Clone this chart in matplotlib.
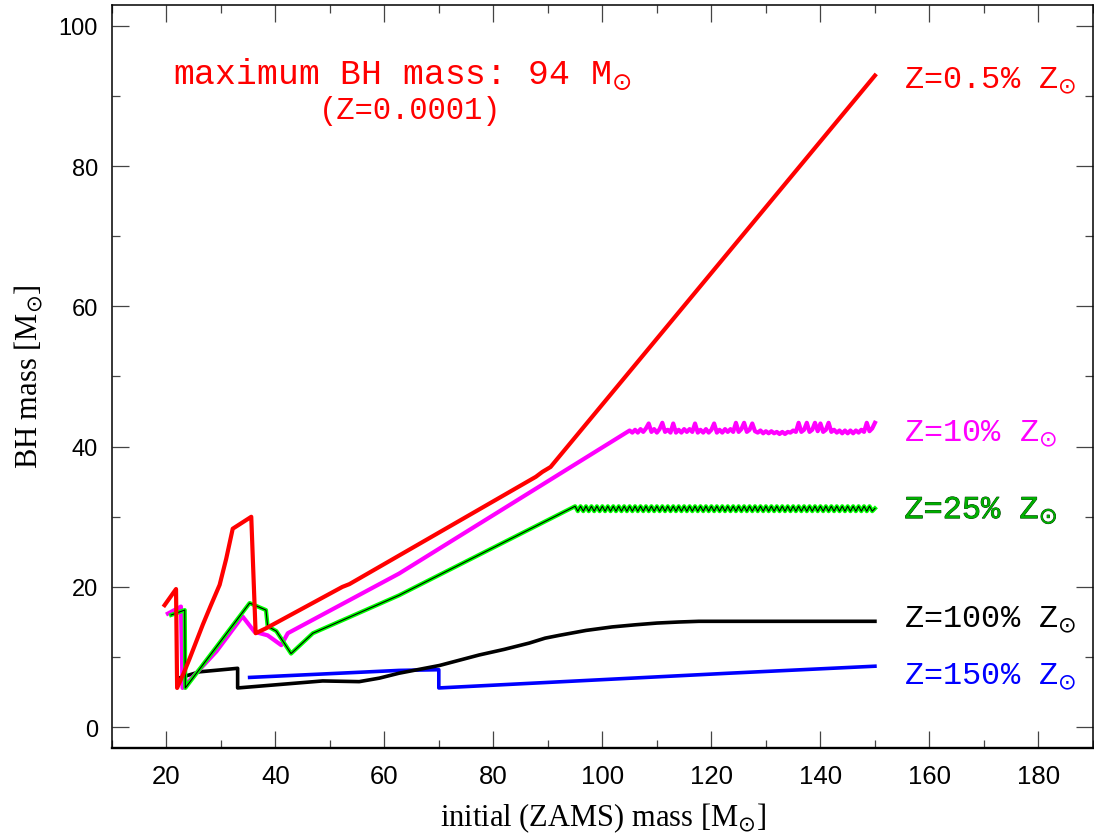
import numpy as np
import matplotlib
matplotlib.use("Agg")
import matplotlib.pyplot as plt
import matplotlib.patheffects as pe
from matplotlib.ticker import MultipleLocator

# BH mass vs ZAMS mass
red_x = [19.7, 21.8, 22.0, 23.2, 24.3, 25.5, 26.7, 28.2, 29.8, 31.0, 32.2, 35.6, 36.4, 38.3,
         52.3, 53.6, 87.8, 89.0, 90.5, 150.0]
red_y = [17.4, 19.7, 5.6, 7.7, 9.8, 12.2, 14.6, 17.4, 20.3, 24.0, 28.3, 30.0, 13.4, 14.1,
         20.0, 20.4, 35.7, 36.4, 37.1, 92.9]

mag_x = [20.3, 22.7, 23.0, 29.2, 34.0, 36.2, 38.6, 41.1, 42.3, 62.7]
mag_y = [16.2, 17.2, 5.6, 10.8, 15.8, 13.6, 13.1, 11.7, 13.4, 21.9]
# plateau, one value per 0.5 Msun from 105 to 150
mag_plateau = [42.3, 42.0, 42.4, 42.0, 42.5, 42.1, 42.6, 43.3, 42.1, 42.5,
               42.0, 42.5, 43.4, 42.1, 42.4, 42.0, 43.3, 42.0, 42.4, 42.0,
               42.5, 42.1, 42.5, 42.1, 43.3, 42.0, 42.4, 42.0, 42.5, 42.0,
               42.4, 43.3, 42.0, 42.4, 42.0, 42.5, 42.1, 42.5, 42.1, 43.4,
               42.1, 42.5, 43.4, 42.1, 42.4, 43.3, 42.2, 42.0, 42.3, 41.9,
               42.2, 41.9, 42.2, 41.9, 42.1, 41.8, 42.1, 41.8, 42.1, 42.0,
               42.3, 42.1, 43.4, 42.1, 42.4, 43.4, 42.1, 42.4, 43.4, 42.2,
               43.3, 42.1, 42.4, 43.4, 42.1, 42.4, 42.0, 42.3, 41.9, 42.3,
               41.9, 42.3, 41.9, 42.3, 42.0, 42.4, 42.1, 43.4, 42.2, 42.6,
               43.4]

grn_x = [20.9, 23.4, 23.5, 35.3, 38.3, 38.6, 40.2, 42.9, 46.9, 62.7]
grn_y = [16.0, 16.7, 5.6, 17.7, 16.7, 14.4, 13.7, 10.5, 13.4, 18.8]
# plateau, one value per 0.5 Msun from 95 to 150
grn_plateau = [31.5, 30.8, 31.5, 30.8, 31.5, 30.8, 31.5, 30.8, 31.5, 30.8,
               31.5, 30.8, 31.5, 30.8, 31.5, 30.8, 31.5, 30.8, 31.5, 30.8,
               31.5, 30.8, 31.5, 30.8, 31.5, 30.8, 31.5, 30.8, 31.5, 30.8,
               31.5, 30.8, 31.5, 30.8, 31.5, 30.8, 31.5, 30.8, 31.5, 30.8,
               31.5, 30.8, 31.5, 30.8, 31.5, 30.8, 31.5, 30.8, 31.5, 30.8,
               31.5, 30.8, 31.5, 30.8, 31.5, 30.8, 31.5, 30.8, 31.5, 30.8,
               31.5, 30.8, 31.5, 30.8, 31.5, 30.8, 31.5, 30.8, 31.5, 30.8,
               31.5, 30.8, 31.5, 30.8, 31.5, 30.8, 31.5, 30.8, 31.5, 30.8,
               31.5, 30.8, 31.5, 30.8, 31.5, 30.8, 31.5, 30.8, 31.5, 30.8,
               31.5, 30.8, 31.5, 30.8, 31.5, 30.8, 31.5, 30.8, 31.5, 30.8,
               31.5, 30.8, 31.5, 30.8, 31.5, 30.8, 31.5, 30.8, 31.5, 30.8,
               31.2]

blk_x = [22.3, 26.1, 33.1, 33.1, 48.7, 55.4, 59.1, 62.7, 70.1, 77.4, 82.0, 86.6, 89.5, 92.1,
         97.0, 101.8, 106.0, 110.0, 114.0, 117.7, 150.0]
blk_y = [7.0, 7.9, 8.4, 5.6, 6.6, 6.5, 7.0, 7.7, 8.8, 10.3, 11.1, 12.0, 12.7, 13.1,
         13.8, 14.3, 14.6, 14.85, 15.0, 15.1, 15.1]

blu_x = [35.3, 62.7, 70.0, 70.0, 123.2, 150.0]
blu_y = [7.1, 8.1, 8.2, 5.6, 7.7, 8.7]

labels = ["Z=0.5% Z$_{\\odot}$", "Z=10% Z$_{\\odot}$", "Z=25% Z$_{\\odot}$",
          "Z=100% Z$_{\\odot}$", "Z=150% Z$_{\\odot}$"]
label_y = [91.3, 40.9, 29.8, 14.4, 6.3]
label_c = ["red", "magenta", "#00b000", "black", "blue"]

# model mass grids for the plateaus
mag_px = 105.0 + 0.5 * np.arange(len(mag_plateau))
grn_px = 95.0 + 0.5 * np.arange(len(grn_plateau))

fig = plt.figure(figsize=(10.94, 8.37), dpi=100)
ax = fig.add_axes([0.1021, 0.1048, 0.897, 0.8884])

ax.plot(blu_x, blu_y, color="blue", lw=2.6)
ax.plot(blk_x, blk_y, color="black", lw=2.6)
ax.plot(mag_x + list(mag_px), mag_y + mag_plateau, color="magenta", lw=3.0)
gx = grn_x + list(grn_px)
gy = grn_y + grn_plateau
ax.plot(gx, gy, color="#00ff00", lw=3.0)
ax.plot(gx, gy, color="black", lw=0.8)
ax.plot(red_x, red_y, color="red", lw=3.0)

mono = "Liberation Mono"
for t, yy, c in zip(labels, label_y, label_c):
    txt = ax.text(155.4, yy, t, color=c, fontsize=23, family=mono, va="baseline", ha="left")
    if c == "#00b000":
        txt.set_path_effects([pe.withStroke(linewidth=0.6, foreground="#003300")])

ax.text(63.3, 91.8, "maximum BH mass: 94 M$_{\\odot}$", color="red", fontsize=25,
        family=mono, ha="center", va="baseline")
ax.text(64.7, 86.9, "(Z=0.0001)", color="red", fontsize=22, family=mono,
        ha="center", va="baseline")

ax.set_xlim(10, 190)
ax.set_ylim(-3, 103)
ax.xaxis.set_major_locator(MultipleLocator(20))
ax.xaxis.set_minor_locator(MultipleLocator(10))
ax.yaxis.set_major_locator(MultipleLocator(20))
ax.yaxis.set_minor_locator(MultipleLocator(10))
ax.tick_params(which="both", direction="in", top=True, right=True, color="#444444", width=0.9)
ax.tick_params(which="major", length=12)
ax.tick_params(which="minor", length=6)
ax.tick_params(axis="x", labelsize=18.5, pad=11)
ax.tick_params(axis="y", labelsize=17, pad=10)
for lab in ax.get_xticklabels() + ax.get_yticklabels():
    lab.set_family("Liberation Sans")
for s in ["left", "top", "right"]:
    ax.spines[s].set_linewidth(1.1)
ax.spines["bottom"].set_linewidth(1.7)

fig.text(0.551, 0.0227, "initial (ZAMS) mass [M$_{\\odot}$]", fontsize=22,
         family="Liberation Serif", ha="center", va="center")
fig.text(0.026, 0.5496, "BH mass [M$_{\\odot}$]", fontsize=22, family="Liberation Serif",
         ha="center", va="center", rotation=90)

fig.savefig("out.png", dpi=100)
